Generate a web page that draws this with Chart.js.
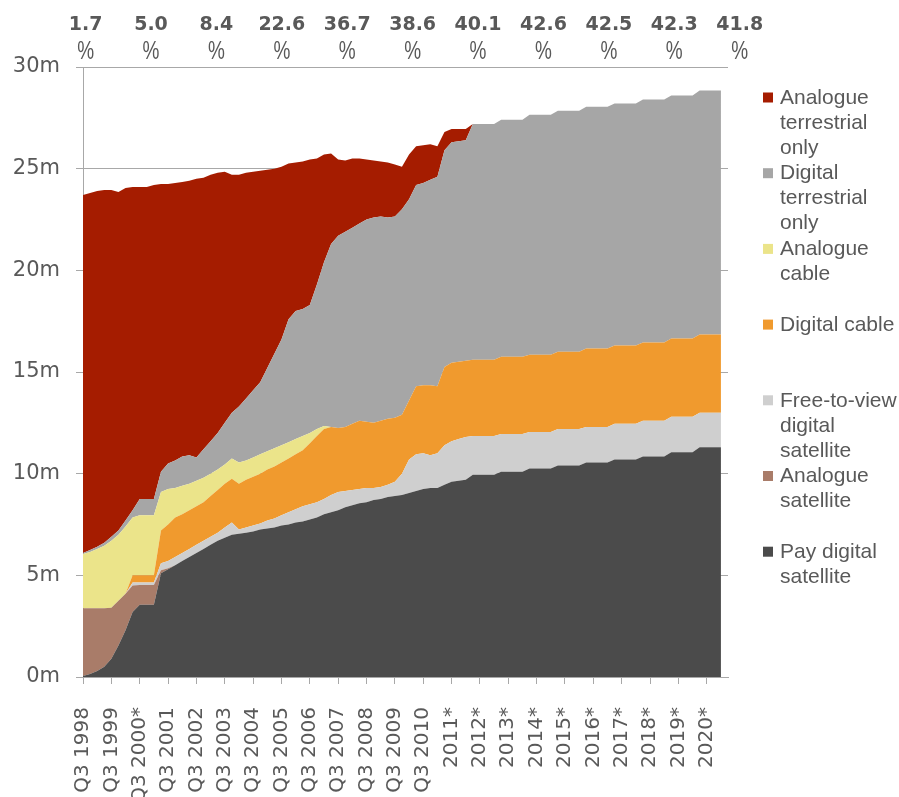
<!DOCTYPE html>
<html><head><meta charset="utf-8">
<script src="https://cdn.jsdelivr.net/npm/chart.js@4.4.1/dist/chart.umd.min.js"></script>
<style>html,body{margin:0;padding:0;background:#fff;} #wrap{width:899px;height:797px;position:relative;}</style>
</head><body><div id="wrap"><canvas id="c" width="899" height="797"></canvas></div>
<script>
// Year tick labels (one every 4 quarters, starting Q3 1998)
const yearLabels = ['Q3 1998','Q3 1999','Q3 2000*','Q3 2001','Q3 2002','Q3 2003','Q3 2004','Q3 2005','Q3 2006','Q3 2007','Q3 2008','Q3 2009','Q3 2010','2011*','2012*','2013*','2014*','2015*','2016*','2017*','2018*','2019*','2020*'];
// Percent annotations along the top
const topShares = [1.7,5.0,8.4,22.6,36.7,38.6,40.1,42.6,42.5,42.3,41.8];

// Quarterly series values (millions), Q3 1998 onwards
const payDigitalSatellite = [0.05,0.15,0.3,0.5,0.9,1.55,2.3,3.2,3.55,3.55,3.55,
 5.1,5.3,5.5,5.7,5.9,6.1,6.3,6.5,6.7,6.85,7.0,7.05,7.1,
 7.15,7.25,7.3,7.35,7.45,7.5,7.6,7.65,7.75,7.85,8.0,8.1,
 8.2,8.35,8.45,8.55,8.6,8.7,8.75,8.85,8.9,8.95,9.05,9.15,9.25,9.3,9.3,9.45,9.6,9.65,9.7,
 9.95,9.95,9.95,9.95,10.1,10.1,10.1,10.1,10.25,10.25,10.25,10.25,10.4,10.4,10.4,10.4,
 10.55,10.55,10.55,10.55,10.7,10.7,10.7,10.7,10.85,10.85,10.85,10.85,11.05,11.05,11.05,11.05,11.3,11.3,11.3,11.3];
const analogueSatellite = [3.33,3.23,3.08,2.88,2.5,2.2,1.8,1.3,0.97,0.97,0.97,0.15,0.05,
 0,0,0,0,0,0,0,0,0,0,0,0,0,0,0,0,0,0,0,0,0,0,0,0,0,0,0,0,0,0,0,0,0,0,0,0,0,0,0,0,
 0,0,0,0,0,0,0,0,0,0,0,0,0,0,0,0,0,0,0,0,0,0,0,0,0,0,0,0,0,0,0,0,0,0,0,0,0,0,0,0];
const freeToViewSatellite = [0,0,0,0,0,0,0,0.15,0.13,0.13,0.13,
 0.35,0.35,0.4,0.4,0.4,0.4,0.4,0.4,0.4,0.5,0.6,0.2,0.25,
 0.3,0.3,0.4,0.45,0.5,0.6,0.65,0.75,0.75,0.75,0.75,0.85,
 0.9,0.8,0.75,0.7,0.7,0.6,0.6,0.6,0.7,1.05,1.65,1.8,1.75,1.6,1.7,1.95,2.0,2.05,2.1,
 1.9,1.9,1.9,1.9,1.85,1.85,1.85,1.85,1.8,1.8,1.8,1.8,1.8,1.8,1.8,1.8,
 1.75,1.75,1.75,1.75,1.75,1.75,1.75,1.75,1.75,1.75,1.75,1.75,1.75,1.75,1.75,1.75,1.7,1.7,1.7,1.7];
const digitalCable = [0,0,0,0,0,0,0,0.35,0.35,0.35,0.35,
 1.6,1.8,1.95,1.9,1.9,1.9,1.9,2.0,2.1,2.15,2.15,2.25,2.35,
 2.4,2.45,2.5,2.55,2.6,2.65,2.7,2.75,3.0,3.25,3.45,3.35,
 3.15,3.15,3.25,3.35,3.25,3.2,3.25,3.25,3.15,2.9,2.9,3.35,3.35,3.45,3.3,3.85,3.85,3.8,3.75,
 3.75,3.75,3.75,3.75,3.8,3.8,3.8,3.8,3.8,3.8,3.8,3.8,3.8,3.8,3.8,3.8,
 3.85,3.85,3.85,3.85,3.85,3.85,3.85,3.85,3.85,3.85,3.85,3.85,3.85,3.85,3.85,3.85,3.85,3.85,3.85,3.85];
const analogueCable = [2.67,2.77,2.92,3.07,3.3,3.25,3.3,2.85,2.95,2.95,2.95,
 1.9,1.75,1.45,1.4,1.3,1.25,1.2,1.1,1.0,0.95,1.0,1.05,0.95,
 0.95,0.95,0.9,0.9,0.85,0.8,0.75,0.7,0.5,0.35,0.15,
 0,0,0,0,0,0,0,0,0,0,0,0,0,0,0,0,0,0,0,0,0,0,0,0,0,0,0,0,0,0,0,0,0,0,0,0,0,0,0,0,
 0,0,0,0,0,0,0,0,0,0,0,0,0,0,0,0,0,0,0,0];
const digitalTerrestrial = [0.05,0.1,0.1,0.15,0.2,0.2,0.3,0.35,0.8,0.8,0.8,
 1.0,1.25,1.35,1.45,1.4,1.15,1.4,1.6,1.8,2.05,2.25,2.75,3.05,
 3.3,3.55,4.1,4.65,5.2,6.05,6.3,6.25,6.3,7.1,8.05,9.0,
 9.45,9.6,9.65,9.7,9.95,10.1,10.05,9.9,9.9,10.1,9.9,9.9,9.95,10.1,10.3,10.65,10.85,10.85,10.85,
 11.6,11.6,11.6,11.6,11.65,11.65,11.65,11.65,11.8,11.8,11.8,11.8,11.85,11.85,11.85,11.85,
 11.9,11.9,11.9,11.9,11.9,11.9,11.9,11.9,11.95,11.95,11.95,11.95,11.95,11.95,11.95,11.95,12.0,12.0,12.0,12.0];
const analogueTerrestrial = [17.6,17.55,17.5,17.35,17.05,16.65,16.35,15.9,15.35,15.35,15.45,
 14.15,13.75,13.65,13.5,13.5,13.7,13.35,13.1,12.8,12.35,11.7,11.4,11.1,
 10.75,10.4,9.75,9.1,8.5,7.65,7.3,7.25,7.15,6.2,5.3,4.45,
 3.75,3.5,3.4,3.2,2.95,2.8,2.7,2.7,2.55,2.1,2.2,1.9,1.85,1.75,1.5,0.9,0.65,0.6,0.55,
 0,0,0,0,0,0,0,0,0,0,0,0,0,0,0,0,0,0,0,0,0,0,0,0,0,0,0,0,0,0,0,0,0,0,0,0];

// Stack order bottom -> top
const seriesNames = ['Pay digital satellite','Analogue satellite','Free-to-view digital satellite','Digital cable','Analogue cable','Digital terrestrial only','Analogue terrestrial only'];
const seriesData = [payDigitalSatellite, analogueSatellite, freeToViewSatellite, digitalCable, analogueCable, digitalTerrestrial, analogueTerrestrial];
const seriesColors = ['#4b4b4b','#a97c69','#cfcfcf','#f09a2e','#ebe48a','#a6a6a6','#a51c00'];

const TXT = '#595959';
const AXIS = '#a8a8a8';

const sharePlugin = {
  id: 'shares',
  afterDraw(chart) {
    const {ctx, chartArea: a} = chart;
    const x0 = a.left + 2.6, x1 = a.right + 11.7;
    const step = (x1 - x0) / (topShares.length - 1);
    ctx.save();
    ctx.fillStyle = TXT;
    ctx.textAlign = 'center';
    ctx.textBaseline = 'alphabetic';
    topShares.forEach((v, i) => {
      const x = x0 + i * step;
      ctx.font = 'bold 19px "DejaVu Sans"';
      ctx.fillText(v.toFixed(1), x, 29.5);
      ctx.save();
      ctx.translate(x, 58.5);
      ctx.scale(1, 1.4);
      ctx.font = '19px "Liberation Sans"';
      ctx.fillText('%', 0, 0);
      ctx.restore();
    });
    ctx.restore();
  }
};

const legendPlugin = {
  id: 'sideLegend',
  afterDraw(chart) {
    const {ctx, chartArea: a} = chart;
    const ds = chart.data.datasets.slice().reverse();
    const textX = 780, boxX = 763, maxW = 118, lineH = 25, entryStep = 75.7;
    ctx.save();
    ctx.font = '21px "Liberation Sans"';
    ctx.textAlign = 'left';
    ctx.textBaseline = 'middle';
    ds.forEach((d, i) => {
      const y0 = a.top + 31 + i * entryStep;
      ctx.fillStyle = d.backgroundColor;
      ctx.fillRect(boxX, y0 - 5.5, 10, 10);
      const words = d.label.split(' ');
      const lines = [];
      let cur = '';
      words.forEach(w => {
        const t = cur ? cur + ' ' + w : w;
        if (cur && ctx.measureText(t).width > maxW) { lines.push(cur); cur = w; } else { cur = t; }
      });
      if (cur) lines.push(cur);
      ctx.fillStyle = TXT;
      lines.forEach((ln, j) => ctx.fillText(ln, textX, y0 + j * lineH));
    });
    ctx.restore();
  }
};

new Chart(document.getElementById('c'), {
  type: 'line',
  data: {
    datasets: seriesData.map((arr, i) => ({
      label: seriesNames[i],
      data: arr.map((v, q) => ({x: q, y: v})),
      backgroundColor: seriesColors[i],
      borderColor: seriesColors[i],
      borderWidth: 0,
      pointRadius: 0,
      tension: 0,
      fill: i === 0 ? 'origin' : '-1'
    }))
  },
  options: {
    responsive: false,
    animation: false,
    layout: {padding: {top: 67, right: 171, left: 0, bottom: 0}},
    plugins: {legend: {display: false}, tooltip: {enabled: false}},
    scales: {
      x: {
        type: 'linear', min: 0, max: 91,
        afterBuildTicks: s => { s.ticks = yearLabels.map((_, i) => ({value: i * 4})); },
        afterFit: s => { s.height = 120; },
        ticks: {
          autoSkip: false, maxRotation: 90, minRotation: 90, padding: 23,
          color: TXT, font: {family: 'DejaVu Sans', size: 20},
          callback: (v, i) => yearLabels[i]
        },
        grid: {drawOnChartArea: false, drawTicks: true, tickLength: 7, color: AXIS},
        border: {color: AXIS}
      },
      y: {
        stacked: true, min: 0, max: 30,
        afterFit: s => { s.width = 83; },
        ticks: {stepSize: 5, padding: 16, color: TXT, font: {family: 'DejaVu Sans', size: 21}, callback: v => v + 'm'},
        grid: {color: AXIS, tickLength: 7},
        border: {color: AXIS}
      }
    }
  },
  plugins: [sharePlugin, legendPlugin]
});
</script>
</body></html>
